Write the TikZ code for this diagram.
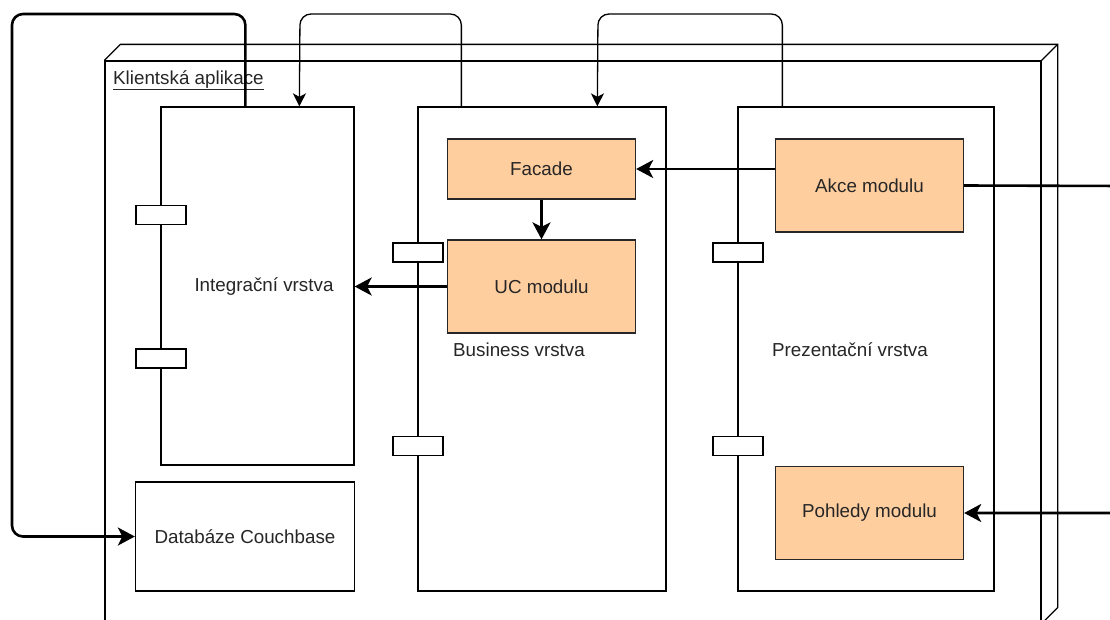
\documentclass[tikz,border=0pt]{standalone}
\usepackage{fontspec}
\setmainfont{Liberation Sans}
\usetikzlibrary{arrows.meta,calc}
\definecolor{modfill}{HTML}{FFCE9F}
\definecolor{txt}{HTML}{262626}

\begin{document}
\begin{tikzpicture}[x=1pt,y=-1pt,
  every node/.style={font=\fontsize{18.8}{22}\selectfont, text=txt},
  box/.style={draw=black, line width=1.3pt, rectangle, inner sep=0pt},
  comp/.style={box, fill=white},
  port/.style={box, fill=white, minimum width=50, minimum height=19},
  module/.style={box, fill=modfill, draw=black!85},
  lbl/.style={inner sep=0pt},
  smallarrow/.style={line width=1.3pt, rounded corners=11,
    -{Stealth[length=13pt, width=13pt, inset=3.5pt]}},
  bigarrow/.style={line width=2.6pt, rounded corners=11,
    -{Stealth[length=17pt, width=18pt, inset=4.5pt]}},
]
\useasboundingbox (0,0) rectangle (1110,619);
\clip (0,0) rectangle (1110,619);

% application node (3D box)
\node[box, minimum width=936, minimum height=562] (app) at (573,342) {};
\draw[line width=1.3pt, line join=miter]
  (app.north west) -- ++(16,-16) -- ([xshift=16pt,yshift=16pt]app.north east)
  -- ([xshift=16pt,yshift=16pt]app.south east) -- (app.south east);
\draw[line width=1.3pt] (app.north east) -- ++(16,-16);
\node[lbl, anchor=base west] (apptitle) at (113,84) {\underline{Klientská aplikace}};

% integration layer
\node[comp, minimum width=193, minimum height=358] (integ) at (257.5,286) {};
\node[lbl] (integlbl) at (264,287) {Integrační vrstva};
\node[port] (ip1) at (161,215) {};
\node[port] (ip2) at (161,358.5) {};

% database
\node[comp, minimum width=219, minimum height=109] (db) at (245,536.5) {Databáze Couchbase};

% business layer
\node[comp, minimum width=248, minimum height=484] (biz) at (542,349) {};
\node[lbl] (bizlbl) at (519,350) {Business vrstva};
\node[port] (bp1) at (418,252.5) {};
\node[port] (bp2) at (418,446) {};
\node[module, minimum width=188, minimum height=60] (facade) at (541.5,169) {Facade};
\node[module, minimum width=188, minimum height=93] (uc) at (541.5,286.5) {UC modulu};

% presentation layer
\node[comp, minimum width=256, minimum height=484] (pres) at (866,349) {};
\node[lbl] (preslbl) at (850,350) {Prezentační vrstva};
\node[port] (pp1) at (738,252.5) {};
\node[port] (pp2) at (738,446) {};
\node[module, minimum width=188, minimum height=93] (akce) at (869.5,185.5) {Akce modulu};
\node[module, minimum width=188, minimum height=93] (pohl) at (869.5,513) {Pohledy modulu};

% connectors between the layers
\coordinate (j1) at (12,14);
\coordinate (j2) at (300,14);
\coordinate (j3) at (598,14);
\coordinate (j4) at (1126,186);
\draw[bigarrow] ([xshift=85pt]integ.north west) |- (j1) |- (db.west);
\draw[smallarrow] ([xshift=44pt]biz.north west) |- (j2) -- ([xshift=139pt]integ.north west);
\draw[smallarrow] ([xshift=45pt]pres.north west) |- (j3) -- ([xshift=180pt]biz.north west);

% connectors between the modules
\draw[bigarrow] (akce.west |- facade.east) -- (facade.east);
\draw[bigarrow] (facade.south) -- (uc.north);
\draw[bigarrow] (uc.west) -- (uc.west -| integ.east);
\draw[bigarrow] (akce.east) -- (j4) |- (pohl.east);
\end{tikzpicture}
\end{document}
